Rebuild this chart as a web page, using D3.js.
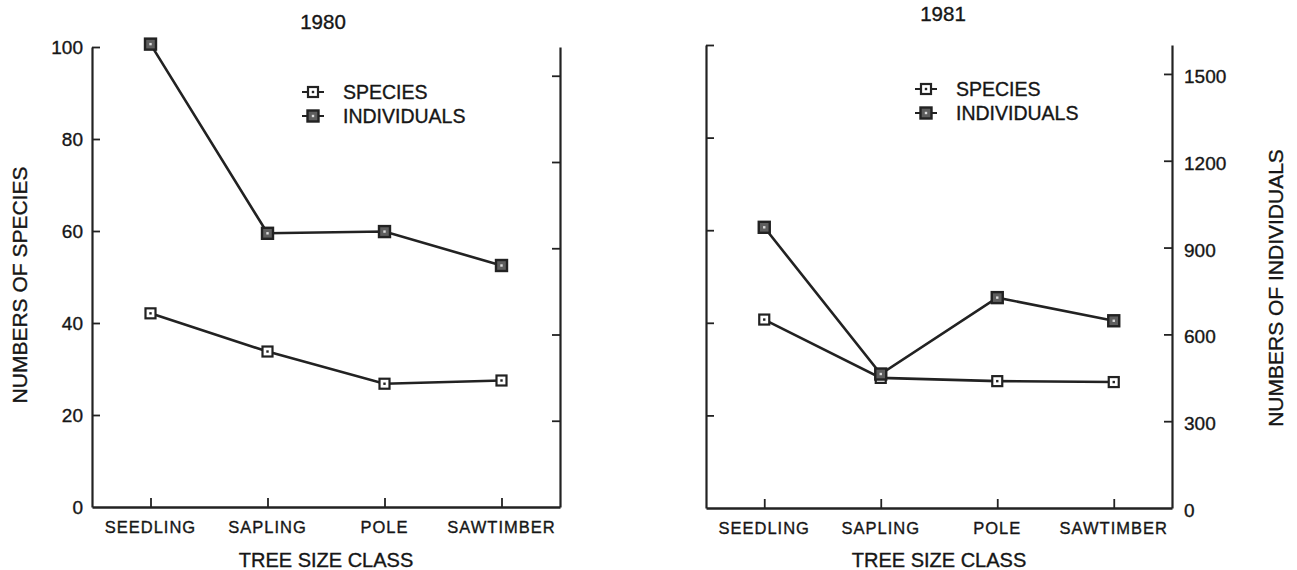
<!DOCTYPE html>
<html>
<head>
<meta charset="utf-8">
<script src="https://cdn.jsdelivr.net/npm/d3@7"></script>
<style>
  body { margin: 0; background: #fff; }
  text { font-family: "Liberation Sans", Arial, sans-serif; fill: #161616; stroke: #161616; stroke-width: 0.35px; }
  .tick-label { font-size: 19px; }
  .cat-label { font-size: 16.5px; letter-spacing: 1px; }
  .title { font-size: 20.5px; }
  .axis-title { font-size: 20px; }
  .side-title { font-size: 21px; }
  .legend-text { font-size: 19.5px; }
</style>
</head>
<body>
<div id="vis"></div>
<script>
// Two panel line chart: species and individuals by tree size class

/* *************************** Data ***************************** */

var categories = ['SEEDLING', 'SAPLING', 'POLE', 'SAWTIMBER'];

// 1980 panel
var species1980 = [42.1, 33.8, 26.8, 27.5];
var individuals1980 = [1610, 952, 958, 840];

// 1981 panel
var species1981 = [40.7, 28.1, 27.4, 27.2];
var individuals1981 = [970, 463, 727, 647];

var speciesTicks = [0, 20, 40, 60, 80, 100];
var individualTicks = [0, 300, 600, 900, 1200, 1500];
var legendLabels = ['SPECIES', 'INDIVIDUALS'];

/* *************************** Settings ***************************** */

var width = 1297;
var height = 570;
var ink = '#222';

var svg = d3.select('#vis')
    .append('svg')
    .attr('width', width)
    .attr('height', height);

// Panel frames (left axis, right axis, top, bottom)
var panels = [
    {
        year: '1980', species: species1980, individuals: individuals1980,
        left: 92, right: 560, top: 47, bottom: 507,
        leftLabels: true, rightLabels: false,
        legendX: 313, legendY: 92, titleX: 323, titleY: 29
    },
    {
        year: '1981', species: species1981, individuals: individuals1981,
        left: 706, right: 1172, top: 45, bottom: 508,
        leftLabels: false, rightLabels: true,
        legendX: 926, legendY: 89, titleX: 943, titleY: 21
    }
];

/* *************************** Markers ***************************** */

var drawMarker = function(sel, type) {
    if (type === 'species') {
        sel.append('rect')
            .attr('x', -5).attr('y', -5)
            .attr('width', 10).attr('height', 10)
            .attr('fill', '#fff')
            .attr('stroke', ink)
            .attr('stroke-width', 2.2);
    } else {
        sel.append('rect')
            .attr('x', -5.5).attr('y', -5.5)
            .attr('width', 11).attr('height', 11)
            .attr('fill', '#5e5e5e')
            .attr('stroke', ink)
            .attr('stroke-width', 2.4);
    }
    sel.append('rect')
        .attr('x', -1.2).attr('y', -1.2)
        .attr('width', 2.4).attr('height', 2.4)
        .attr('fill', type === 'species' ? ink : '#ddd');
};

/* *************************** Draw panels ***************************** */

panels.forEach(function(p) {
    var g = svg.append('g');

    // x: point scale with half a step at each end
    var xScale = d3.scalePoint()
        .domain(categories)
        .range([p.left, p.right])
        .padding(0.5);

    var ySpecies = d3.scaleLinear()
        .domain([0, 100])
        .range([p.bottom, p.top]);

    var yIndividuals = d3.scaleLinear()
        .domain([0, 1600])
        .range([p.bottom, p.top]);

    // Left axis, ticks pointing inward
    var leftAxis = d3.axisRight(ySpecies)
        .tickValues(speciesTicks)
        .tickSize(8)
        .tickSizeOuter(0)
        .tickFormat(p.leftLabels ? d3.format('d') : '');
    var la = g.append('g')
        .attr('transform', 'translate(' + p.left + ',0)')
        .call(leftAxis);
    la.select('.domain').attr('stroke', ink).attr('stroke-width', 2.2);
    la.selectAll('.tick line').attr('stroke', ink).attr('stroke-width', 1.8);
    la.selectAll('.tick').filter(function(d) { return d === 0; }).select('line').remove();
    la.selectAll('.tick text')
        .attr('class', 'tick-label')
        .attr('x', -9)
        .attr('text-anchor', 'end')
        .attr('fill', '#161616');

    // Right axis, ticks pointing inward
    var rightAxis = d3.axisLeft(yIndividuals)
        .tickValues(individualTicks)
        .tickSize(8)
        .tickSizeOuter(0)
        .tickFormat(p.rightLabels ? d3.format('d') : '');
    var ra = g.append('g')
        .attr('transform', 'translate(' + p.right + ',0)')
        .call(rightAxis);
    ra.select('.domain').attr('stroke', ink).attr('stroke-width', 2.2);
    ra.selectAll('.tick line').attr('stroke', ink).attr('stroke-width', 1.8);
    ra.selectAll('.tick').filter(function(d) { return d === 0; }).select('line').remove();
    ra.selectAll('.tick text')
        .attr('class', 'tick-label')
        .attr('x', 12)
        .attr('dy', '0.45em')
        .attr('text-anchor', 'start')
        .attr('fill', '#161616');

    // Bottom axis, ticks pointing up
    var xAxis = d3.axisTop(xScale)
        .tickSize(9)
        .tickSizeOuter(0)
        .tickFormat('');
    var xa = g.append('g')
        .attr('transform', 'translate(0,' + p.bottom + ')')
        .call(xAxis);
    xa.select('.domain').attr('stroke', ink).attr('stroke-width', 2.4);
    xa.selectAll('.tick line').attr('stroke', ink).attr('stroke-width', 1.8);

    g.selectAll('.cat-label')
        .data(categories)
        .enter().append('text')
        .attr('class', 'cat-label')
        .attr('x', function(d) { return xScale(d); })
        .attr('y', p.bottom + 26)
        .attr('text-anchor', 'middle')
        .text(function(d) { return d; });

    // Titles
    g.append('text')
        .attr('class', 'title')
        .attr('x', p.titleX)
        .attr('y', p.titleY)
        .attr('text-anchor', 'middle')
        .text(p.year);

    g.append('text')
        .attr('class', 'axis-title')
        .attr('x', (p.left + p.right) / 2)
        .attr('y', 567)
        .attr('text-anchor', 'middle')
        .text('TREE SIZE CLASS');

    // Lines
    var speciesLine = d3.line()
        .x(function(d, i) { return xScale(categories[i]); })
        .y(function(d) { return ySpecies(d); });
    var individualsLine = d3.line()
        .x(function(d, i) { return xScale(categories[i]); })
        .y(function(d) { return yIndividuals(d); });

    g.append('path')
        .attr('d', speciesLine(p.species))
        .attr('fill', 'none')
        .attr('stroke', ink)
        .attr('stroke-width', 2.6);
    g.append('path')
        .attr('d', individualsLine(p.individuals))
        .attr('fill', 'none')
        .attr('stroke', ink)
        .attr('stroke-width', 2.6);

    g.selectAll('.sp-marker')
        .data(p.species)
        .enter().append('g')
        .attr('transform', function(d, i) {
            return 'translate(' + xScale(categories[i]) + ',' + ySpecies(d) + ')';
        })
        .each(function() { drawMarker(d3.select(this), 'species'); });

    g.selectAll('.ind-marker')
        .data(p.individuals)
        .enter().append('g')
        .attr('transform', function(d, i) {
            return 'translate(' + xScale(categories[i]) + ',' + yIndividuals(d) + ')';
        })
        .each(function() { drawMarker(d3.select(this), 'individuals'); });

    // Legend
    legendLabels.forEach(function(label, i) {
        var ly = p.legendY + i * 24;
        var lg = g.append('g').attr('transform', 'translate(' + p.legendX + ',' + ly + ')');
        lg.append('line')
            .attr('x1', -11).attr('x2', 11)
            .attr('stroke', ink).attr('stroke-width', 2);
        drawMarker(lg, i === 0 ? 'species' : 'individuals');
        lg.append('text')
            .attr('class', 'legend-text')
            .attr('x', 30)
            .attr('dy', '0.36em')
            .text(label);
    });
});

// Outer y-axis titles
svg.append('text')
    .attr('class', 'side-title')
    .attr('transform', 'translate(27,285) rotate(-90)')
    .attr('text-anchor', 'middle')
    .text('NUMBERS OF SPECIES');

svg.append('text')
    .attr('class', 'side-title')
    .attr('transform', 'translate(1283,288) rotate(-90)')
    .attr('text-anchor', 'middle')
    .text('NUMBERS OF INDIVIDUALS');
</script>
</body>
</html>
